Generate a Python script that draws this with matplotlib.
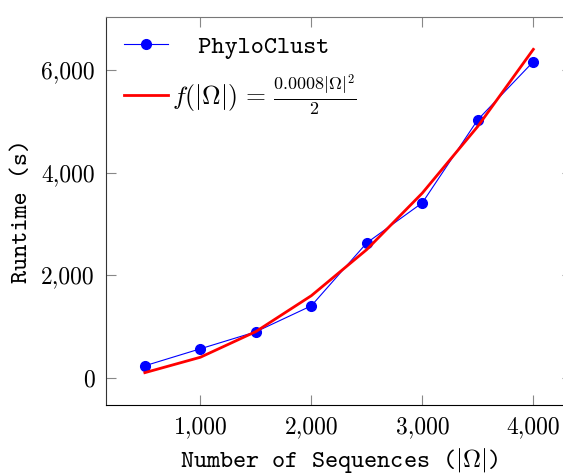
import matplotlib.pyplot as plt
from matplotlib.ticker import FuncFormatter

# Data
n_seq = [500, 1000, 1500, 2000, 2500, 3000, 3500, 4000]
runtime = [234, 565, 896, 1403, 2630, 3410, 5030, 6160]
fit = [100, 400, 900, 1600, 2500, 3600, 4900, 6400]

x_ticks = [1000, 2000, 3000, 4000]
y_ticks = [0, 2000, 4000, 6000]

plt.rcParams.update({
    'mathtext.fontset': 'cm',
    'font.family': 'cmr10',
    'axes.formatter.use_mathtext': True,
    'font.size': 17,
})

fig = plt.figure(figsize=(5.63, 4.74), dpi=100)
ax = fig.add_axes([0.1883, 0.1456, 0.828, 0.8185])

ax.plot(n_seq, runtime, color='blue', lw=0.8, marker='o', ms=7,
        label='  PhyloClust')
ax.plot(n_seq, fit, color='red', lw=2,
        label=r'$f(|\Omega|)\,=\,\frac{0.0008|\Omega|^2}{2}$')

ax.set_xlim(150, 4350)
ax.set_ylim(-530, 7030)
ax.set_xticks(x_ticks)
ax.set_yticks(y_ticks)
fmt = FuncFormatter(lambda v, p: f'{int(v):,}')
ax.xaxis.set_major_formatter(fmt)
ax.yaxis.set_major_formatter(fmt)
ax.tick_params(direction='in', top=True, right=True, length=7,
               color='#888888', labelsize=17, pad=8)
ax.spines['top'].set_color('#777777')
ax.spines['left'].set_color('#333333')
ax.spines['right'].set_visible(False)

ax.set_xlabel(r'Number of Sequences ($|\Omega|$)', family='cmtt10',
              fontsize=18, labelpad=5.5)
ax.set_ylabel('Runtime (s)', family='cmtt10', fontsize=18, labelpad=6)

leg = ax.legend(loc='upper left', frameon=False, fontsize=18.5,
                handlelength=1.7, borderaxespad=0.3, handletextpad=0.15)
leg.get_texts()[0].set_family('cmtt10')
leg.get_texts()[0].set_fontsize(18)

fig.savefig('out.png', dpi=100)
